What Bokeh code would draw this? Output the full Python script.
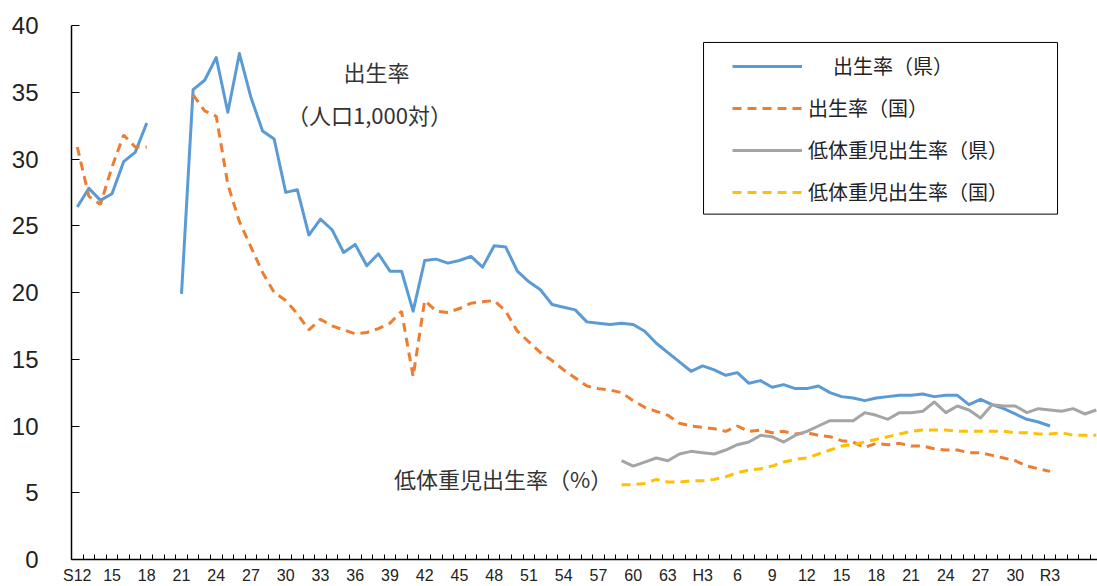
import numpy as np
from bokeh.plotting import figure
from bokeh.models import Range1d, FixedTicker, Legend, LegendItem, Label, BoxAnnotation
from bokeh.embed import file_html
from bokeh.resources import INLINE

# ---- data ----
years = list(range(1937, 2026))
tick_years = list(range(1937, 2022, 3))
tick_labels = ["S12", "15", "18", "21", "24", "27", "30", "33", "36", "39", "42", "45",
               "48", "51", "54", "57", "60", "63", "H3", "6", "9", "12", "15", "18",
               "21", "24", "27", "30", "R3"]

# 出生率(県)  1937-2021
birth_pref_start = 1937
birth_pref = [26.4, 27.8, 26.9, 27.4, 29.8, 30.5, 32.7, None, None, 19.9,
              35.2, 35.9, 37.6, 33.5, 37.9, 34.6, 32.1, 31.5, 27.5, 27.7,
              24.3, 25.5, 24.7, 23.0, 23.6, 22.0, 22.9, 21.6, 21.6, 18.6,
              22.4, 22.5, 22.2, 22.4, 22.7, 21.9, 23.5, 23.4, 21.6, 20.8,
              20.2, 19.1, 18.9, 18.7, 17.8, 17.7, 17.6, 17.7, 17.6, 17.1,
              16.2, 15.5, 14.8, 14.1, 14.5, 14.2, 13.8, 14.0, 13.2, 13.4,
              12.9, 13.1, 12.8, 12.8, 13.0, 12.5, 12.2, 12.1, 11.9, 12.1,
              12.2, 12.3, 12.3, 12.4, 12.2, 12.3, 12.3, 11.6, 12.0, 11.6,
              11.3, 10.9, 10.5, 10.3, 10.0]

# 出生率(国)  1937-2021
birth_nat_start = 1937
birth_nat = [30.9, 27.2, 26.6, 29.4, 31.8, 30.9, 30.9, None, None, None,
             34.8, 33.6, 33.2, 28.1, 25.3, 23.4, 21.5, 20.0, 19.4, 18.4,
             17.2, 18.0, 17.5, 17.2, 16.9, 17.0, 17.3, 17.7, 18.6, 13.7,
             19.4, 18.6, 18.5, 18.8, 19.2, 19.3, 19.4, 18.6, 17.1, 16.3,
             15.5, 14.9, 14.2, 13.6, 13.0, 12.8, 12.7, 12.5, 11.9, 11.4,
             11.1, 10.8, 10.2, 10.0, 9.9, 9.8, 9.6, 10.0, 9.6, 9.7,
             9.5, 9.6, 9.4, 9.5, 9.3, 9.2, 8.9, 8.8, 8.4, 8.7,
             8.6, 8.7, 8.5, 8.5, 8.3, 8.2, 8.2, 8.0, 8.0, 7.8,
             7.6, 7.4, 7.0, 6.8, 6.6]

# 低体重児出生率(県)  1984-2025
lbw_pref_start = 1984
lbw_pref = [7.4, 7.0, 7.3, 7.6, 7.4, 7.9, 8.1, 8.0, 7.9, 8.2,
            8.6, 8.8, 9.3, 9.2, 8.8, 9.3, 9.6, 10.0, 10.4, 10.4,
            10.4, 11.0, 10.8, 10.5, 11.0, 11.0, 11.1, 11.8, 11.0, 11.5,
            11.2, 10.6, 11.6, 11.5, 11.5, 11.0, 11.3, 11.2, 11.1, 11.3,
            10.9, 11.2]

# 低体重児出生率(国)  1984-2025
lbw_nat_start = 1984
lbw_nat = [5.6, 5.6, 5.7, 6.0, 5.8, 5.8, 5.9, 5.9, 6.0, 6.2,
           6.5, 6.7, 6.8, 7.0, 7.3, 7.5, 7.6, 7.9, 8.2, 8.5,
           8.6, 8.8, 9.0, 9.2, 9.4, 9.6, 9.7, 9.7, 9.7, 9.6,
           9.6, 9.6, 9.6, 9.6, 9.5, 9.5, 9.4, 9.4, 9.5, 9.3,
           9.3, 9.3]


def series(start, vals):
    xs = list(range(start, start + len(vals)))
    ys = [np.nan if v is None else v for v in vals]
    return xs, ys


p = figure(width=1097, height=586,
           x_range=Range1d(1936.5, 2025.1), y_range=Range1d(0, 40),
           output_backend="svg", toolbar_location=None,
           min_border_left=71, min_border_right=0,
           min_border_top=25, min_border_bottom=26)
p.outline_line_color = None
p.xgrid.visible = False
p.ygrid.visible = False

# x axis
p.xaxis.ticker = FixedTicker(ticks=tick_years,
                             minor_ticks=[1936.5 + i for i in range(len(years) + 1)])
p.xaxis.major_label_overrides = {y: lab for y, lab in zip(tick_years, tick_labels)}
p.xaxis.major_tick_in = 0
p.xaxis.major_tick_out = 0
p.xaxis.minor_tick_in = 5
p.xaxis.minor_tick_out = 0
p.xaxis.minor_tick_line_color = "black"
p.xaxis.axis_line_color = "black"
p.xaxis.axis_line_width = 1.5
p.xaxis.major_label_text_font = "Liberation Sans"
p.xaxis.major_label_text_font_size = "16px"
p.xaxis.major_label_text_color = "#222222"
p.xaxis.major_label_standoff = 7

# y axis
p.yaxis.ticker = FixedTicker(ticks=list(range(0, 41, 5)))
p.yaxis.major_tick_in = 8
p.yaxis.major_tick_out = 0
p.yaxis.minor_tick_in = 0
p.yaxis.minor_tick_out = 0
p.yaxis.major_tick_line_color = "black"
p.yaxis.axis_line_color = "black"
p.yaxis.axis_line_width = 1.5
p.yaxis.major_label_text_font = "Liberation Sans"
p.yaxis.major_label_text_font_size = "24px"
p.yaxis.major_label_text_color = "#222222"
p.yaxis.major_label_standoff = 33

xb, yb = series(birth_pref_start, birth_pref)
xn, yn = series(birth_nat_start, birth_nat)
xg, yg = series(lbw_pref_start, lbw_pref)
xy, yy = series(lbw_nat_start, lbw_nat)

r_blue = p.line(xb, yb, line_color="#5B9BD5", line_width=3, line_join="round")
r_orange = p.line(xn, yn, line_color="#ED7D31", line_width=3, line_dash="9 6")
r_gray = p.line(xg, yg, line_color="#A5A5A5", line_width=3, line_join="round")
r_yellow = p.line(xy, yy, line_color="#FFC000", line_width=3, line_dash="9 6")

# legend frame
box = BoxAnnotation(left=1991.08, right=2021.65, top=38.73, bottom=25.87,
                    fill_alpha=0, line_color="black", line_width=1, line_alpha=1)
p.add_layout(box)

legend = Legend(items=[
    LegendItem(label="\u3000\u2005出生率（県）", renderers=[r_blue]),
    LegendItem(label="出生率（国）", renderers=[r_orange]),
    LegendItem(label="低体重児出生率（県）", renderers=[r_gray]),
    LegendItem(label="低体重児出生率（国）", renderers=[r_yellow]),
], location=(661, 353), border_line_alpha=0, background_fill_alpha=0,
    padding=0, margin=0, spacing=13, glyph_width=70, glyph_height=20,
    label_height=20, label_standoff=6,
    label_text_font="Noto Sans CJK JP", label_text_font_size="20px",
    label_text_color="#222222")
p.add_layout(legend)

for txt, x, y, align in [("出生率", 1962.84, 36.56, "center"),
                         ("（人口1,000対）", 1962.23, 33.35, "center"),
                         ("低体重児出生率（%）", 1983.2, 6.13, "right")]:
    p.add_layout(Label(x=x, y=y, text=txt, text_align=align, text_baseline="middle",
                       text_font="Noto Sans CJK JP", text_font_size="22px",
                       text_color="#333333"))

open("out.html", "w").write(file_html(p, INLINE))
